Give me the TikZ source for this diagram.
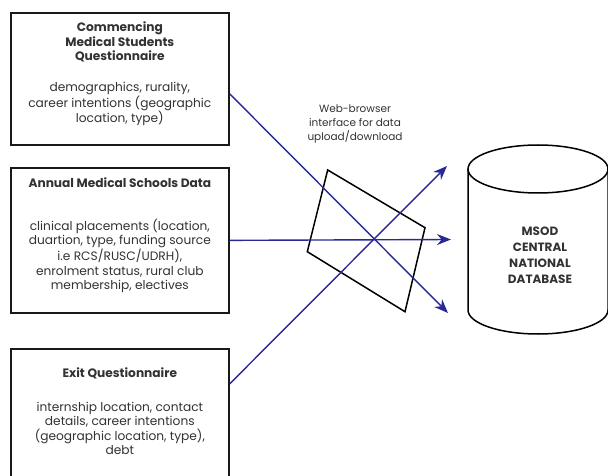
\documentclass[tikz,border=0pt]{standalone}
\usepackage{fontspec}
\setmainfont{Poppins}
\usetikzlibrary{arrows.meta}
\usetikzlibrary{positioning}
\definecolor{linkblue}{RGB}{40,40,150}
\definecolor{inkgrey}{RGB}{50,50,50}

\begin{document}
\begin{tikzpicture}[x=1pt,y=-1pt,
		frame/.style={draw=black!90, line width=1.7pt, minimum width=218pt, anchor=north west, inner sep=0pt},
		info/.style={align=center, text=inkgrey, font=\fontsize{12.2}{14.5}\selectfont, inner sep=0pt},
		flow/.style={draw=linkblue, line width=1.4pt, -{Stealth[length=14pt,width=11pt]}}]
	\useasboundingbox (0,0) rectangle (608,476);
	
	% Source boxes
	\node[frame, minimum height=132pt] (cmsq) at (10,12) {};
	\node[frame, minimum height=145pt] (amsd) at (10,167) {};
	\node[frame, minimum height=135pt] (exitq) at (10,348) {};
	
	% Box texts
	\node[info, below=10pt of cmsq.north] (cmsqtxt) {\textbf{Commencing}\\\textbf{Medical Students}\\\textbf{Questionnaire}\\[16pt]
		demographics, rurality,\\career intentions (geographic\\location, type)};
	\node[info, below=11pt of amsd.north] (amsdtxt) {\textbf{Annual Medical Schools Data}\\[28pt]
		clinical placements (location,\\duartion, type, funding source\\i.e RCS/RUSC/UDRH),\\enrolment status, rural club\\membership, electives};
	\node[info, below=20pt of exitq.north] (exitqtxt) {\textbf{Exit Questionnaire}\\[19pt]
		internship location, contact\\details, career intentions\\(geographic location, type),\\debt};
	
	% Web interface
	\draw[black, line width=1.5pt] (327.7,170) -- (425,227.7) -- (405,311.7) -- (307.3,251.7) -- cycle;
	\node[info, font=\fontsize{10.5}{14}\selectfont] (web) at (355,124) {Web-browser\\interface for data\\upload/download};
	
	% Database cylinder
	\draw[black, line width=1.5pt] (538,169) ellipse (70 and 24);
	\draw[black, line width=1.5pt] (468,169) -- (468,310) arc[start angle=180, end angle=360, x radius=70, y radius=-24] -- (608,169);
	\node[font=\bfseries\fontsize{12}{16}\selectfont, align=center, text=inkgrey] (msod) at (540,255) {MSOD\\CENTRAL\\NATIONAL\\DATABASE};
	
	% Arrows
	\coordinate (tipdown) at (448,313);
	\coordinate (tipmid) at (451,239.5);
	\coordinate (tipup) at (447,166);
	\draw[flow] ([yshift=-15pt]cmsq.east) -- (tipdown);
	\draw[flow] (amsd.east) -- (tipmid);
	\draw[flow] ([yshift=32.5pt]exitq.east) -- (tipup);
\end{tikzpicture}
\end{document}
